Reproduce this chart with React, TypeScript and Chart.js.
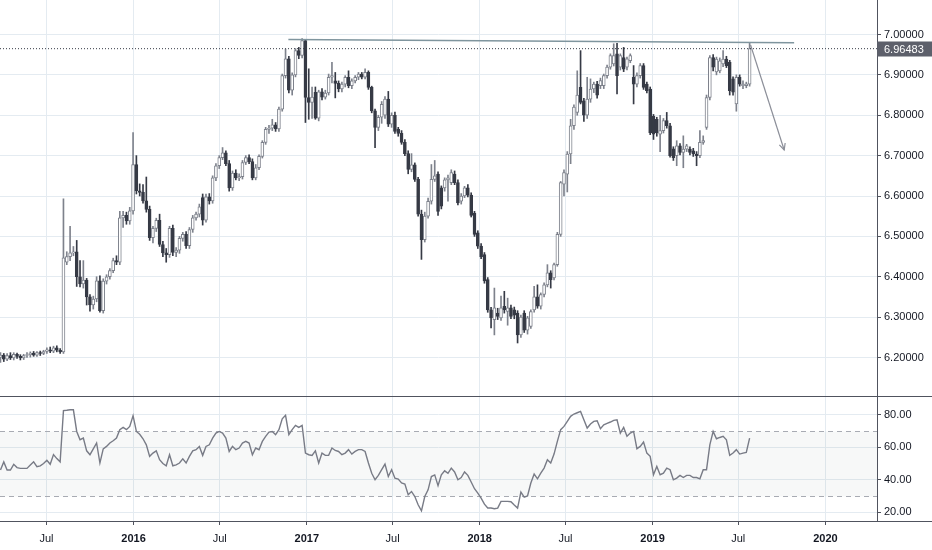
import React, { useEffect, useRef } from "react";
import { Chart, registerables } from "chart.js";

Chart.register(...registerables);

// ---------------- data (weekly candles) ----------------
const FIRST_WEEK = "2015-03-26";
const VIEW_START = "2015-03-25";
const VIEW_END = "2020-04-19";

const opens = [
  6.200, 6.206, 6.196, 6.205, 6.199, 6.208, 6.203, 6.199, 6.205, 6.207,
  6.211, 6.206, 6.212, 6.210, 6.215, 6.219, 6.216, 6.224, 6.218, 6.214,
  6.436, 6.450, 6.459, 6.462, 6.400, 6.382, 6.392, 6.350, 6.330, 6.345,
  6.390, 6.316, 6.389, 6.400, 6.415, 6.440, 6.436, 6.546, 6.552, 6.538,
  6.563, 6.678, 6.613, 6.609, 6.588, 6.567, 6.497, 6.520, 6.540, 6.480,
  6.459, 6.455, 6.520, 6.460, 6.466, 6.495, 6.505, 6.477, 6.517, 6.546,
  6.555, 6.596, 6.540, 6.598, 6.588, 6.645, 6.675, 6.695, 6.707, 6.680,
  6.620, 6.657, 6.645, 6.648, 6.683, 6.695, 6.685, 6.645, 6.670, 6.698,
  6.733, 6.765, 6.768, 6.776, 6.766, 6.815, 6.898, 6.940, 6.862, 6.900,
  6.960, 6.948, 6.985, 6.844, 6.832, 6.857, 6.793, 6.858, 6.845, 6.855,
  6.894, 6.885, 6.879, 6.865, 6.877, 6.894, 6.873, 6.885, 6.894, 6.902,
  6.894, 6.906, 6.869, 6.811, 6.770, 6.795, 6.800, 6.840, 6.778, 6.800,
  6.765, 6.755, 6.733, 6.705, 6.666, 6.677, 6.641, 6.555, 6.492, 6.550,
  6.587, 6.641, 6.654, 6.620, 6.620, 6.640, 6.633, 6.654, 6.633, 6.587,
  6.600, 6.620, 6.602, 6.558, 6.509, 6.476, 6.455, 6.393, 6.318, 6.294,
  6.310, 6.298, 6.327, 6.314, 6.323, 6.318, 6.310, 6.256, 6.310, 6.268,
  6.277, 6.318, 6.350, 6.327, 6.356, 6.380, 6.410, 6.397, 6.430, 6.505,
  6.629, 6.654, 6.704, 6.774, 6.807, 6.869, 6.836, 6.800, 6.840, 6.865,
  6.877, 6.873, 6.873, 6.898, 6.919, 6.927, 6.952, 6.919, 6.943, 6.919,
  6.935, 6.894, 6.877, 6.898, 6.923, 6.877, 6.865, 6.797, 6.790, 6.753,
  6.762, 6.787, 6.774, 6.717, 6.700, 6.724, 6.708, 6.716, 6.716, 6.712,
  6.704, 6.700, 6.733, 6.770, 6.844, 6.943, 6.907, 6.910, 6.927, 6.939,
  6.931, 6.890, 6.828, 6.894, 6.873, 6.873, 6.877,
];

const highs = [
  6.212, 6.210, 6.210, 6.212, 6.212, 6.211, 6.207, 6.208, 6.212, 6.214,
  6.215, 6.215, 6.216, 6.218, 6.224, 6.226, 6.228, 6.229, 6.222, 6.593,
  6.462, 6.525, 6.475, 6.490, 6.440, 6.440, 6.396, 6.356, 6.352, 6.400,
  6.402, 6.395, 6.405, 6.420, 6.446, 6.452, 6.562, 6.562, 6.560, 6.572,
  6.757, 6.700, 6.630, 6.628, 6.647, 6.575, 6.525, 6.545, 6.555, 6.488,
  6.470, 6.525, 6.528, 6.472, 6.500, 6.510, 6.512, 6.522, 6.552, 6.560,
  6.580, 6.605, 6.605, 6.606, 6.650, 6.680, 6.700, 6.720, 6.712, 6.688,
  6.662, 6.665, 6.655, 6.688, 6.700, 6.702, 6.692, 6.678, 6.702, 6.737,
  6.770, 6.775, 6.790, 6.782, 6.820, 6.902, 6.964, 6.946, 6.905, 6.965,
  6.968, 6.990, 6.987, 6.915, 6.870, 6.870, 6.862, 6.866, 6.862, 6.902,
  6.931, 6.906, 6.885, 6.882, 6.898, 6.910, 6.890, 6.898, 6.906, 6.906,
  6.915, 6.910, 6.872, 6.815, 6.800, 6.834, 6.846, 6.859, 6.806, 6.808,
  6.770, 6.762, 6.740, 6.712, 6.705, 6.682, 6.646, 6.565, 6.560, 6.595,
  6.678, 6.688, 6.660, 6.625, 6.645, 6.652, 6.665, 6.662, 6.640, 6.606,
  6.624, 6.628, 6.608, 6.562, 6.514, 6.482, 6.460, 6.398, 6.324, 6.372,
  6.322, 6.352, 6.364, 6.347, 6.330, 6.325, 6.316, 6.305, 6.316, 6.302,
  6.318, 6.376, 6.380, 6.360, 6.385, 6.430, 6.415, 6.434, 6.510, 6.636,
  6.665, 6.710, 6.790, 6.826, 6.910, 6.960, 6.842, 6.894, 6.890, 6.882,
  6.884, 6.892, 6.902, 6.924, 6.952, 6.977, 6.978, 6.952, 6.968, 6.944,
  6.952, 6.923, 6.905, 6.928, 6.928, 6.882, 6.870, 6.802, 6.795, 6.800,
  6.792, 6.807, 6.780, 6.722, 6.737, 6.730, 6.749, 6.728, 6.722, 6.718,
  6.710, 6.762, 6.749, 6.850, 6.948, 6.950, 6.944, 6.942, 6.960, 6.946,
  6.936, 6.895, 6.900, 6.900, 6.885, 6.882, 6.978,
];

const lows = [
  6.188, 6.190, 6.192, 6.195, 6.194, 6.198, 6.194, 6.195, 6.200, 6.201,
  6.203, 6.203, 6.205, 6.207, 6.210, 6.212, 6.212, 6.214, 6.210, 6.210,
  6.430, 6.440, 6.452, 6.376, 6.375, 6.372, 6.330, 6.315, 6.320, 6.338,
  6.312, 6.310, 6.382, 6.394, 6.410, 6.430, 6.430, 6.522, 6.530, 6.530,
  6.555, 6.605, 6.600, 6.582, 6.560, 6.490, 6.484, 6.512, 6.475, 6.450,
  6.436, 6.448, 6.452, 6.450, 6.458, 6.488, 6.470, 6.470, 6.510, 6.540,
  6.548, 6.528, 6.535, 6.580, 6.582, 6.638, 6.668, 6.690, 6.675, 6.612,
  6.614, 6.640, 6.638, 6.642, 6.678, 6.680, 6.640, 6.640, 6.665, 6.694,
  6.728, 6.755, 6.762, 6.760, 6.760, 6.810, 6.892, 6.855, 6.850, 6.895,
  6.940, 6.942, 6.782, 6.790, 6.792, 6.790, 6.786, 6.838, 6.840, 6.850,
  6.880, 6.843, 6.858, 6.858, 6.870, 6.868, 6.866, 6.880, 6.888, 6.890,
  6.890, 6.864, 6.806, 6.720, 6.762, 6.780, 6.792, 6.772, 6.770, 6.755,
  6.748, 6.728, 6.700, 6.655, 6.660, 6.636, 6.550, 6.443, 6.486, 6.545,
  6.580, 6.636, 6.552, 6.568, 6.612, 6.587, 6.628, 6.628, 6.578, 6.580,
  6.596, 6.598, 6.548, 6.500, 6.470, 6.445, 6.384, 6.312, 6.273, 6.256,
  6.294, 6.292, 6.310, 6.280, 6.296, 6.296, 6.236, 6.250, 6.262, 6.258,
  6.272, 6.312, 6.322, 6.320, 6.350, 6.375, 6.372, 6.392, 6.426, 6.500,
  6.600, 6.610, 6.680, 6.765, 6.800, 6.828, 6.785, 6.792, 6.832, 6.856,
  6.842, 6.866, 6.866, 6.892, 6.914, 6.922, 6.853, 6.912, 6.908, 6.912,
  6.930, 6.828, 6.870, 6.892, 6.864, 6.855, 6.752, 6.740, 6.748, 6.710,
  6.756, 6.768, 6.696, 6.688, 6.675, 6.702, 6.670, 6.710, 6.702, 6.698,
  6.675, 6.695, 6.728, 6.765, 6.838, 6.910, 6.900, 6.905, 6.920, 6.918,
  6.850, 6.850, 6.810, 6.872, 6.866, 6.868, 6.872,
];

const closes = [
  6.206, 6.196, 6.205, 6.199, 6.208, 6.203, 6.199, 6.205, 6.207, 6.211,
  6.206, 6.212, 6.210, 6.215, 6.219, 6.216, 6.224, 6.218, 6.214, 6.447,
  6.450, 6.459, 6.462, 6.400, 6.382, 6.392, 6.350, 6.330, 6.345, 6.390,
  6.316, 6.389, 6.400, 6.415, 6.440, 6.436, 6.546, 6.552, 6.538, 6.563,
  6.678, 6.613, 6.609, 6.588, 6.567, 6.497, 6.520, 6.540, 6.480, 6.459,
  6.455, 6.520, 6.460, 6.466, 6.495, 6.505, 6.477, 6.517, 6.546, 6.555,
  6.573, 6.540, 6.598, 6.588, 6.645, 6.675, 6.695, 6.707, 6.680, 6.620,
  6.657, 6.645, 6.648, 6.683, 6.695, 6.685, 6.645, 6.670, 6.698, 6.733,
  6.765, 6.768, 6.776, 6.766, 6.815, 6.898, 6.940, 6.862, 6.900, 6.960,
  6.948, 6.985, 6.844, 6.832, 6.845, 6.793, 6.858, 6.845, 6.855, 6.894,
  6.898, 6.879, 6.865, 6.877, 6.894, 6.873, 6.885, 6.894, 6.902, 6.894,
  6.906, 6.869, 6.811, 6.770, 6.795, 6.827, 6.840, 6.778, 6.800, 6.760,
  6.755, 6.733, 6.705, 6.666, 6.677, 6.641, 6.555, 6.492, 6.550, 6.587,
  6.641, 6.650, 6.562, 6.575, 6.640, 6.645, 6.658, 6.633, 6.583, 6.600,
  6.620, 6.602, 6.552, 6.505, 6.476, 6.450, 6.390, 6.318, 6.298, 6.323,
  6.302, 6.323, 6.318, 6.323, 6.302, 6.305, 6.256, 6.300, 6.268, 6.298,
  6.314, 6.350, 6.327, 6.356, 6.380, 6.410, 6.393, 6.430, 6.505, 6.633,
  6.658, 6.704, 6.774, 6.820, 6.850, 6.832, 6.800, 6.840, 6.865, 6.877,
  6.850, 6.886, 6.898, 6.919, 6.948, 6.948, 6.898, 6.948, 6.914, 6.940,
  6.948, 6.877, 6.898, 6.923, 6.869, 6.861, 6.757, 6.753, 6.757, 6.762,
  6.787, 6.774, 6.700, 6.695, 6.724, 6.708, 6.716, 6.724, 6.708, 6.704,
  6.700, 6.733, 6.737, 6.844, 6.943, 6.919, 6.939, 6.935, 6.939, 6.923,
  6.861, 6.857, 6.894, 6.877, 6.877, 6.878, 6.96483,
];

// RSI (14), one value per week
const rsiValues = [
  46, 51, 46, 46, 49.5, 47.5, 47, 47, 47, 49,
  51, 48, 48.5, 50, 52, 49.5, 55.5, 53, 51, 82.5,
  82.7, 83, 83, 69.7, 64.6, 65.6, 57.8, 55.4, 59, 62.6,
  50.3, 59, 60.5, 62.6, 64, 65.6, 70.8, 72.2, 70.8, 72.8,
  79.4, 69.7, 68, 65.2, 61.5, 54.4, 56.4, 57.8, 52.3, 50,
  48.6, 55.4, 48.6, 49.2, 50.3, 52.9, 50.3, 54.4, 57.8, 58.5,
  60.5, 55, 60.5, 61.5, 65.6, 68.7, 69.7, 68.7, 65.6, 57.4,
  60.5, 58.5, 59.5, 62.6, 63.6, 62.6, 55.4, 59.5, 58.5, 63.6,
  66.7, 69.3, 69.7, 67.7, 70.8, 77.5, 79.6, 67.7, 70.8, 73.4,
  72.2, 73.4, 56.4, 55.4, 55, 57.8, 50.3, 56.4, 55, 55,
  59.5, 58, 57.4, 55.4, 56.4, 58.5, 55.8, 57.4, 58.5, 58.5,
  57.4, 50.3, 44, 40, 42.7, 46.2, 49.6, 42, 46.2, 41,
  40.4, 38, 37.3, 30.8, 32.8, 29.7, 24.6, 20.9, 29.7, 33.8,
  42, 43, 36.4, 43, 45.5, 44, 47.2, 44.8, 40, 41.4,
  44.8, 42.7, 38.6, 34.5, 31.8, 28.7, 25, 22.6, 22.6, 22.2,
  22.6, 26.7, 26.7, 26.7, 26.5, 24.5, 22.6, 32.4, 29.3, 30.1,
  38, 43.5, 40.6, 44.1, 47.2, 52.3, 50.3, 55.8, 63.6, 70.8,
  72.8, 75.9, 79, 80.4, 81.2, 82, 76.9, 71.8, 74.3, 75.9,
  76.3, 71.4, 73.8, 74.7, 75.5, 76.5, 76.9, 68.7, 72.2, 66.7,
  68.7, 69.7, 59.1, 60.5, 63.2, 56.4, 54.4, 43.1, 48.2, 43.1,
  44.1, 47.2, 46.2, 40, 41, 42.7, 41.4, 42.7, 42.7, 41.4,
  41.4, 40.6, 46.2, 46.2, 61.5, 69.7, 65.2, 66, 66.7, 64.6,
  55, 56.4, 58.5, 55.8, 56.4, 56.8, 65.6,
];

// axis ticks
const axisTickDates = [
  "2015-07-01", "2016-01-01", "2016-07-01", "2017-01-01", "2017-07-01",
  "2018-01-01", "2018-07-01", "2019-01-01", "2019-07-01", "2020-01-01",
];
const axisTickLabels = ["Jul", "2016", "Jul", "2017", "Jul", "2018", "Jul", "2019", "Jul", "2020"];
const priceTicks = [6.2, 6.3, 6.4, 6.5, 6.6, 6.7, 6.8, 6.9, 7.0];
const rsiTicks = [20, 40, 60, 80];
const PRICE_MIN = 6.1047;
const PRICE_MAX = 7.0854;
const RSI_MIN = 14.65;
const RSI_MAX = 90.88;
const RSI_UPPER = 70;
const RSI_LOWER = 30;

// drawings
const trendDates = ["2016-11-23", "2019-10-27"];
const trendValues = [6.9876, 6.9797];
const arrowDates = ["2019-07-27", "2019-10-06"];
const arrowValues = [6.974, 6.714];

// ---------------- styling ----------------
const FONT = '"Liberation Sans", Arial, sans-serif';
const GRID = "#e4ebf1";
const AXIS_LINE = "#50535e";
const TEXT = "#131722";
const UP_COLOR = "#7e828c";
const DOWN_COLOR = "#363a45";
const TREND_COLOR = "#7f959e";
const ARROW_COLOR = "#8c8f99";
const RSI_COLOR = "#787b86";
const RIGHT_AXIS_WIDTH = 55;

const DAY_MS = 86400000;
const toDay = (iso: string) => Date.parse(iso + "T00:00:00Z") / DAY_MS;

const X_MIN = toDay(VIEW_START);
const X_MAX = toDay(VIEW_END);
const tickDays = axisTickDates.map(toDay);
const n = Math.min(opens.length, highs.length, lows.length, closes.length);
const weekDays = Array.from({ length: n }, (_, i) => toDay(FIRST_WEEK) + 7 * i);
const LAST_PRICE = closes[n - 1];

function lockScale(size: number) {
  return (scale: any) => {
    if (scale.isHorizontal()) scale.height = size;
    else scale.width = size;
    scale.paddingLeft = 0;
    scale.paddingRight = 0;
    scale.paddingTop = 0;
    scale.paddingBottom = 0;
  };
}

function setTicks(values: number[]) {
  return (scale: any) => {
    scale.ticks = values.map((v) => ({ value: v }));
  };
}

const fullWidthBottomLine = {
  id: "fullWidthBottomLine",
  afterDraw(chart: any) {
    const { ctx, chartArea, width } = chart;
    ctx.save();
    ctx.strokeStyle = AXIS_LINE;
    ctx.lineWidth = 1;
    ctx.beginPath();
    ctx.moveTo(0, Math.round(chartArea.bottom) + 0.5);
    ctx.lineTo(width, Math.round(chartArea.bottom) + 0.5);
    ctx.stroke();
    ctx.restore();
  },
};

const arrowHeadPlugin = {
  id: "arrowHead",
  afterDatasetsDraw(chart: any) {
    const xs = chart.scales.x;
    const ys = chart.scales.y;
    const x1 = xs.getPixelForValue(toDay(arrowDates[0]));
    const y1 = ys.getPixelForValue(arrowValues[0]);
    const x2 = xs.getPixelForValue(toDay(arrowDates[1]));
    const y2 = ys.getPixelForValue(arrowValues[1]);
    const ang = Math.atan2(y2 - y1, x2 - x1);
    const len = 7;
    const spread = 0.45;
    const { ctx } = chart;
    ctx.save();
    ctx.strokeStyle = ARROW_COLOR;
    ctx.lineWidth = 1.2;
    ctx.beginPath();
    ctx.moveTo(x2 - len * Math.cos(ang - spread), y2 - len * Math.sin(ang - spread));
    ctx.lineTo(x2, y2);
    ctx.lineTo(x2 - len * Math.cos(ang + spread), y2 - len * Math.sin(ang + spread));
    ctx.stroke();
    ctx.restore();
  },
};

const priceLabelPlugin = {
  id: "priceLabel",
  afterDraw(chart: any) {
    const { ctx, chartArea, width } = chart;
    const y = Math.round(chart.scales.y.getPixelForValue(LAST_PRICE));
    const h = 15;
    ctx.save();
    ctx.fillStyle = "#5d606b";
    ctx.fillRect(chartArea.right, y - h / 2, width - chartArea.right, h);
    ctx.fillStyle = "#ffffff";
    ctx.font = `11px ${FONT}`;
    ctx.textBaseline = "middle";
    ctx.textAlign = "left";
    ctx.fillText(LAST_PRICE.toFixed(5), chartArea.right + 7, y + 0.5);
    ctx.restore();
  },
};

const rsiBandPlugin = {
  id: "rsiBand",
  beforeDatasetsDraw(chart: any) {
    const { ctx, chartArea } = chart;
    const ys = chart.scales.y;
    const yU = Math.round(ys.getPixelForValue(RSI_UPPER)) + 0.5;
    const yL = Math.round(ys.getPixelForValue(RSI_LOWER)) + 0.5;
    ctx.save();
    ctx.fillStyle = "rgba(120, 140, 140, 0.06)";
    ctx.fillRect(chartArea.left, yU, chartArea.right - chartArea.left, yL - yU);
    ctx.strokeStyle = "#a8abb3";
    ctx.lineWidth = 1;
    ctx.setLineDash([5, 4]);
    ctx.beginPath();
    ctx.moveTo(chartArea.left, yU);
    ctx.lineTo(chartArea.right, yU);
    ctx.moveTo(chartArea.left, yL);
    ctx.lineTo(chartArea.right, yL);
    ctx.stroke();
    ctx.restore();
  },
};

function mainConfig(): any {
  const up = weekDays.map((_, i) => closes[i] >= opens[i]);
  const bodyData = weekDays.map((d, i) => ({
    x: d,
    y: [Math.min(opens[i], closes[i]), Math.max(opens[i], closes[i])],
  }));
  const wickData = weekDays.map((d, i) => ({ x: d, y: [lows[i], highs[i]] }));
  return {
    type: "bar",
    data: {
      datasets: [
        {
          type: "line",
          data: trendDates.map((d, i) => ({ x: toDay(d), y: trendValues[i] })),
          borderColor: TREND_COLOR,
          borderWidth: 1.5,
          pointRadius: 0,
          order: -2,
        },
        {
          type: "line",
          data: arrowDates.map((d, i) => ({ x: toDay(d), y: arrowValues[i] })),
          borderColor: ARROW_COLOR,
          borderWidth: 1.2,
          pointRadius: 0,
          order: -2,
        },
        {
          type: "line",
          data: [
            { x: X_MIN, y: LAST_PRICE },
            { x: X_MAX, y: LAST_PRICE },
          ],
          borderColor: DOWN_COLOR,
          borderWidth: 1,
          borderDash: [1, 2],
          pointRadius: 0,
          order: -1,
        },
        {
          type: "bar",
          data: bodyData,
          grouped: false,
          barThickness: 3,
          minBarLength: 1,
          borderWidth: 1,
          borderSkipped: false,
          backgroundColor: up.map((u) => (u ? "#ffffff" : DOWN_COLOR)),
          borderColor: up.map((u) => (u ? UP_COLOR : DOWN_COLOR)),
          order: 0,
        },
        {
          type: "bar",
          data: wickData,
          grouped: false,
          barThickness: 1,
          borderWidth: 0,
          backgroundColor: up.map((u) => (u ? UP_COLOR : DOWN_COLOR)),
          order: 1,
        },
      ],
    },
    options: {
      responsive: false,
      animation: false,
      events: [],
      layout: { padding: 0 },
      plugins: { legend: { display: false }, tooltip: { enabled: false } },
      scales: {
        x: {
          type: "linear",
          min: X_MIN,
          max: X_MAX,
          offset: false,
          grid: { color: GRID, drawTicks: false, offset: false },
          border: { display: false },
          ticks: { display: false },
          afterBuildTicks: setTicks(tickDays),
          afterFit: lockScale(1),
        },
        y: {
          type: "linear",
          position: "right",
          min: PRICE_MIN,
          max: PRICE_MAX,
          beginAtZero: false,
          grid: { color: GRID, drawTicks: true, tickLength: 4, tickColor: AXIS_LINE },
          border: { display: true, color: AXIS_LINE },
          ticks: {
            color: TEXT,
            padding: 3,
            font: { family: FONT, size: 11 },
            callback: (v: any) => Number(v).toFixed(5),
          },
          afterBuildTicks: setTicks(priceTicks),
          afterFit: lockScale(RIGHT_AXIS_WIDTH),
        },
      },
    },
    plugins: [arrowHeadPlugin, priceLabelPlugin, fullWidthBottomLine],
  };
}

function rsiConfig(): any {
  const m = Math.min(rsiValues.length, weekDays.length);
  return {
    type: "line",
    data: {
      datasets: [
        {
          data: weekDays.slice(0, m).map((d, i) => ({ x: d, y: rsiValues[i] })),
          borderColor: RSI_COLOR,
          borderWidth: 1.4,
          pointRadius: 0,
          tension: 0,
        },
      ],
    },
    options: {
      responsive: false,
      animation: false,
      events: [],
      layout: { padding: 0 },
      plugins: { legend: { display: false }, tooltip: { enabled: false } },
      scales: {
        x: {
          type: "linear",
          min: X_MIN,
          max: X_MAX,
          offset: false,
          grid: { color: GRID, drawTicks: true, tickLength: 4, tickColor: AXIS_LINE, offset: false },
          border: { display: false },
          ticks: {
            autoSkip: false,
            maxRotation: 0,
            padding: 7,
            color: TEXT,
            font: (ctx: any) => ({
              family: FONT,
              size: 11,
              weight: /^\d/.test(axisTickLabels[ctx.index] || "") ? "bold" : "normal",
            }),
            callback: (_v: any, i: number) => axisTickLabels[i],
          },
          afterBuildTicks: setTicks(tickDays),
          afterFit: lockScale(29),
        },
        y: {
          type: "linear",
          position: "right",
          min: RSI_MIN,
          max: RSI_MAX,
          beginAtZero: false,
          grid: { color: GRID, drawTicks: true, tickLength: 4, tickColor: AXIS_LINE },
          border: { display: true, color: AXIS_LINE },
          ticks: {
            color: TEXT,
            padding: 3,
            font: { family: FONT, size: 11 },
            callback: (v: any) => Number(v).toFixed(2),
          },
          afterBuildTicks: setTicks(rsiTicks),
          afterFit: lockScale(RIGHT_AXIS_WIDTH),
        },
      },
    },
    plugins: [rsiBandPlugin, fullWidthBottomLine],
  };
}

export default function App() {
  const mainRef = useRef<HTMLCanvasElement>(null);
  const rsiRef = useRef<HTMLCanvasElement>(null);

  useEffect(() => {
    Chart.defaults.font.family = FONT;
    const main = new Chart(mainRef.current as HTMLCanvasElement, mainConfig());
    const rsi = new Chart(rsiRef.current as HTMLCanvasElement, rsiConfig());
    return () => {
      main.destroy();
      rsi.destroy();
    };
  }, []);

  return (
    <div
      style={{
        position: "absolute",
        left: 0,
        top: 0,
        width: 932,
        height: 550,
        background: "#ffffff",
        overflow: "hidden",
      }}
    >
      <canvas
        ref={mainRef}
        width={932}
        height={397}
        style={{ position: "absolute", left: 0, top: 0, width: 932, height: 397 }}
      />
      <canvas
        ref={rsiRef}
        width={932}
        height={153}
        style={{ position: "absolute", left: 0, top: 397, width: 932, height: 153 }}
      />
    </div>
  );
}
